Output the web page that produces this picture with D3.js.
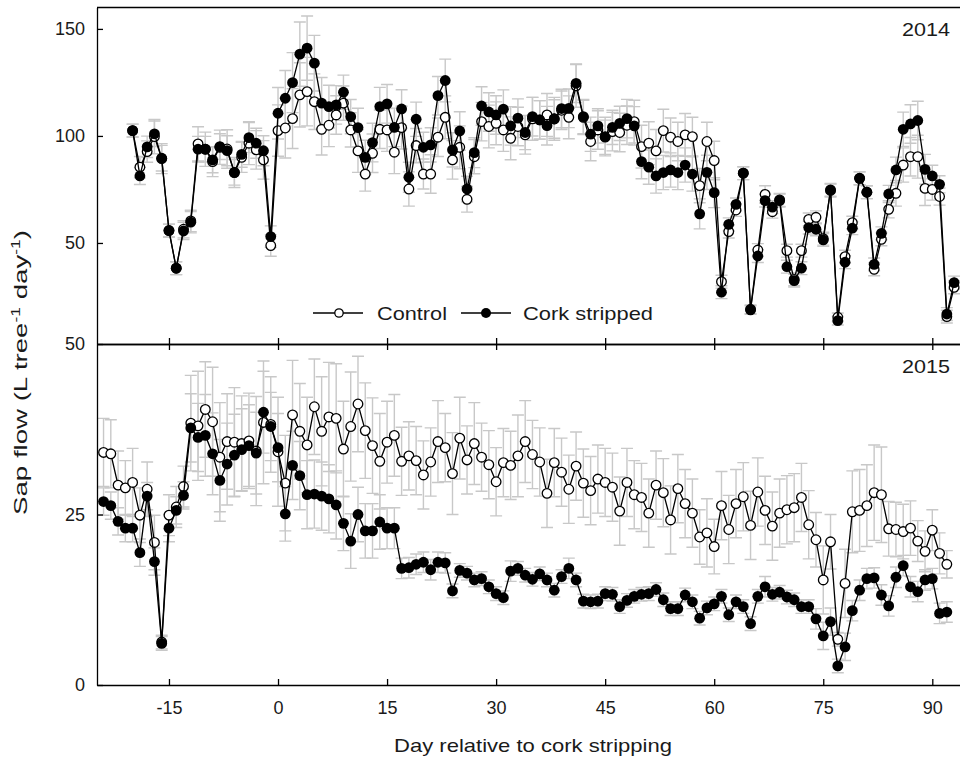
<!DOCTYPE html>
<html>
<head>
<meta charset="utf-8">
<script src="https://cdn.jsdelivr.net/npm/d3@7"></script>
<style>
  body { margin: 0; background: #fff; }
  text { font-family: "Liberation Sans", Arial, sans-serif; fill: #1a1a1a; }
</style>
</head>
<body>
<script>
// chart size
var svgWidth = 960;
var svgHeight = 758;

// ---- data ----
var xTicks = [-15, 0, 15, 30, 45, 60, 75, 90];
var yTicks2014 = [50, 100, 150];
var yTicks2015 = [0, 25, 50];
var seriesNames = ["Control", "Cork stripped"];
var panelLabels = ["2014", "2015"];

// 2014: one value per day, starting at day -20
var firstDay2014 = -20;
var control2014 = [
  102.5, 85.4, 92.7, 99.7, 89.4, 55.8, 38.2, 56.4, 60.3, 96.3,
  93.8, 88, 94.7, 93.9, 82.9, 90, 96.6, 93.5, 88.8, 48.8,
  102.5, 103.7, 108.1, 119.2, 120.7, 116, 103.1, 105, 109.8, 115.3,
  102.8, 93, 82.2, 91.9, 103.1, 102.8, 92.4, 103.9, 75.2, 95.5,
  82.2, 82.2, 99.4, 108.7, 88.8, 94.7, 70.4, 90.3, 106.7, 104.4,
  105.9, 102.8, 98.9, 104.4, 100.5, 108, 107.5, 109.8, 108, 112,
  108.7, 123.4, 108.7, 97.4, 102.8, 99.7, 102, 101.6, 105, 106.7,
  95, 96.6, 93, 102.5, 99.4, 97.4, 100.5, 99.7, 76.8, 97.4,
  88.5, 31.9, 55.3, 65.4, 82.6, 19, 46.7, 72.7, 64.6, 70.1,
  46.4, 33, 46.4, 61, 62, 52, 74.5, 15.3, 43.6, 59.5,
  80.2, 73.7, 37.7, 51.7, 65.7, 73.2, 86.4, 90.3, 90.3, 75.5,
  75, 71.7, 15.6, 29.3
];
var cork2014 = [
  102.5, 81.3, 94.9, 101, 89.6, 55.8, 38.2, 55.6, 59.7, 93.8,
  93.8, 88.8, 95, 93.1, 83, 91.4, 99.2, 96.6, 93.1, 53,
  110.6, 117.6, 124.9, 138.2, 141, 134, 115.3, 113.7, 114.5, 120.4,
  109, 103.9, 90, 96.9, 113.7, 115, 104, 112.6, 80.7, 107.8,
  94.7, 95.8, 118.8, 125.9, 93.5, 102.3, 75.2, 92.2, 114, 111.2,
  109.8, 112.5, 104.7, 108.3, 101.6, 109, 107.5, 104.8, 107.9, 112.8,
  112.9, 124.6, 109, 100.8, 104.7, 99.4, 104, 105.9, 108.1, 104.7,
  88, 85.4, 81.3, 82.9, 84.1, 82.9, 86.4, 82.2, 63.6, 83,
  73.5, 27, 58.7, 68, 82.6, 18.7, 43.9, 69.8, 66.7, 69.8,
  38.9, 32.4, 38.2, 57.2, 56.4, 51.4, 74.8, 13.7, 41, 56.9,
  80.2, 73.7, 40, 54.5, 72.9, 84.1, 103.1, 105.6, 107.2, 84.4,
  81.3, 77.4, 16.8, 31.5
];
var controlSE2014 = [
  3, 5, 5, 8, 7, 3, 3, 4, 5, 8,
  8, 7, 8, 9, 7, 7, 10, 9, 9, 5,
  12, 14, 14, 15, 16, 13, 12, 10, 9, 8,
  8, 10, 8, 9, 9, 10, 10, 10, 8, 8,
  7, 9, 9, 10, 9, 10, 6, 8, 9, 10,
  10, 10, 10, 9, 9, 10, 9, 10, 10, 9,
  10, 10, 8, 9, 9, 9, 9, 9, 9, 10,
  10, 10, 10, 10, 9, 9, 10, 9, 8, 9,
  9, 3, 3, 3, 3, 2, 3, 4, 3, 3,
  3, 3, 3, 3, 3, 3, 3, 2, 3, 3,
  3, 3, 3, 3, 4, 6, 8, 9, 10, 8,
  5, 4, 3, 3
];
var corkSE2014 = [
  3, 4, 5, 6, 6, 3, 3, 4, 5, 6,
  6, 6, 6, 7, 6, 6, 7, 7, 7, 5,
  12, 13, 14, 15, 15, 13, 12, 10, 9, 8,
  8, 9, 8, 9, 9, 9, 9, 9, 7, 8,
  7, 8, 9, 10, 8, 9, 6, 7, 9, 9,
  9, 9, 9, 9, 8, 9, 9, 9, 9, 9,
  9, 9, 8, 8, 8, 8, 8, 8, 9, 9,
  8, 8, 8, 8, 8, 8, 8, 8, 7, 8,
  7, 3, 3, 3, 3, 2, 3, 3, 3, 3,
  3, 3, 3, 3, 3, 3, 3, 2, 3, 3,
  3, 3, 3, 3, 4, 6, 8, 9, 9, 7,
  5, 4, 3, 3
];

// 2015: one value per day, starting at day -24
var firstDay2015 = -24;
var control2015 = [
  34.1, 33.9, 29.3, 28.9, 29.7, 24.9, 28.7, 20.9, 6.3, 24.9,
  26.1, 29.1, 38.4, 38, 40.4, 38.6, 33.4, 35.7, 35.6, 35.4,
  35.8, 34.3, 38.5, 38.2, 34.2, 29.6, 39.6, 37.2, 35.2, 40.8,
  37.2, 39.3, 39.1, 34.6, 37.9, 41.2, 37.3, 35.1, 32.8, 35.6,
  36.6, 32.8, 33.6, 32.9, 30.8, 32.7, 35.7, 34.8, 31, 36.2,
  33, 35.4, 33.4, 32.3, 29.8, 32.6, 32.2, 33.6, 35.7, 33.8,
  32.7, 28.1, 32.6, 31.2, 28.7, 32.1, 29.6, 28.5, 30.2, 29.7,
  29, 25.5, 29.7, 27.9, 27.5, 25.2, 29.3, 28.2, 24.2, 28.8,
  26.6, 25.2, 21.7, 22.3, 20.3, 26.3, 22.8, 26.6, 27.6, 23.4,
  28.3, 25.6, 23.3, 25.2, 25.7, 26, 27.5, 23.5, 21.3, 15.4,
  21, 6.7, 14.9, 25.4, 25.6, 26.3, 28.2, 27.9, 22.9, 22.8,
  22.5, 23, 21.1, 19.6, 22.7, 19.3, 17.7
];
var cork2015 = [
  26.9, 26.3, 24, 23, 23, 19.4, 27.7, 18.1, 6.1, 23,
  25.6, 27.8, 37.7, 36.3, 36.6, 33.9, 30, 32.4, 33.7, 34.5,
  35.1, 34, 40, 37.9, 34.8, 25.1, 32.2, 30.7, 27.9, 28,
  27.7, 27.3, 26.4, 23.7, 21.1, 25, 22.6, 22.6, 23.9, 23,
  23, 17.1, 17.2, 17.7, 18, 16.9, 18, 17.9, 13.8, 16.8,
  16.4, 15.4, 15.6, 14.4, 13.4, 12.8, 16.7, 17.1, 16.1, 15.5,
  16.3, 15.4, 13.9, 15.9, 17.1, 15.4, 12.3, 12.2, 12.3, 13.4,
  13.3, 11.5, 12.4, 13, 13.3, 13.4, 14, 12.5, 11.2, 11.2,
  13.2, 12.2, 9.8, 11.3, 11.9, 13, 10.3, 12.2, 11.5, 9,
  13, 14.4, 13.3, 13.6, 12.9, 12.5, 11.5, 11.5, 9.7, 7.2,
  9.3, 2.8, 5.6, 10.9, 13.9, 15.6, 15.7, 13.2, 11.6, 15.8,
  17.5, 14.4, 13.7, 15.4, 15.6, 10.5, 10.7
];
var controlSE2015 = [
  5, 5, 5, 4, 5, 4, 4, 4, 1, 3,
  3, 3, 7, 8, 7, 8, 8, 7, 8, 7,
  7, 8, 9, 7, 8, 7, 8, 7, 7, 7,
  8, 8, 8, 7, 8, 7, 7, 7, 7, 6,
  6, 5, 5, 5, 5, 5, 6, 5, 6, 6,
  5, 6, 5, 5, 5, 5, 5, 6, 6, 5,
  5, 5, 5, 5, 5, 5, 5, 5, 5, 5,
  5, 5, 5, 5, 5, 5, 5, 5, 5, 5,
  5, 5, 4, 5, 4, 5, 5, 5, 5, 5,
  5, 5, 5, 5, 5, 5, 5, 5, 4, 5,
  4, 1, 5, 6, 6, 6, 7, 7, 4, 4,
  4, 4, 3, 3, 3, 3, 2
];
var corkSE2015 = [
  2, 2, 2, 2, 2, 2, 2, 2, 1, 2,
  2, 2, 5, 5, 6, 6, 6, 6, 6, 6,
  6, 6, 6, 5, 5, 4, 5, 5, 5, 5,
  5, 5, 5, 4, 4, 4, 4, 4, 4, 3,
  3, 1.5, 1.5, 1.5, 1.5, 1.5, 1.5, 1.5, 1, 1,
  1, 1, 1, 1, 1, 1, 1.5, 1, 1, 1,
  1, 1, 1, 1, 1.5, 1, 1, 1, 1, 1,
  1, 1, 1, 1, 1, 1, 1, 1, 1, 1,
  1, 1, 1, 1, 1, 1, 1, 1, 1, 1,
  1, 1.5, 1, 1, 1, 1, 1, 1, 1.5, 2,
  2, 1, 2, 1.5, 1.5, 1.5, 1.5, 1.5, 1.5, 1.5,
  1.5, 1.5, 1.5, 1.5, 1.5, 1.5, 1.5
];

// ---- layout ----
var plotLeft = 97, plotRight = 1005;   // right side runs off the page, like the figure
var topY0 = 7.5, midY = 344, botY = 685;

var svg = d3.select("body").append("svg")
  .attr("width", svgWidth)
  .attr("height", svgHeight);

var x = d3.scaleLinear().domain([-24.9, 100]).range([plotLeft, plotRight]);
var yTop = d3.scaleLinear().domain([2.8, 160]).range([midY, topY0]);
var yBot = d3.scaleLinear().domain([0, 50]).range([botY, midY]);

function rows(first, vals, se) {
  return vals.map(function(v, i) { return {day: first + i, v: v, se: se[i]}; });
}

function drawPanel(y, first, ctrl, cork, ctrlSE, corkSE) {
  var g = svg.append("g");
  var c = rows(first, ctrl, ctrlSE);
  var k = rows(first, cork, corkSE);

  // error bars, grey, drawn first
  g.append("g").selectAll("path")
    .data(c.concat(k))
    .enter().append("path")
    .attr("d", function(d) {
      var cx = x(d.day), lo = y(d.v - d.se), hi = y(d.v + d.se);
      return "M" + cx + "," + lo + "V" + hi +
        "M" + (cx - 6) + "," + lo + "h12M" + (cx - 6) + "," + hi + "h12";
    })
    .attr("fill", "none")
    .attr("stroke", "#c8c8c8")
    .attr("stroke-width", 1.4);

  var line = d3.line().x(function(d) { return x(d.day); }).y(function(d) { return y(d.v); });

  g.append("path").datum(c).attr("d", line)
    .attr("fill", "none").attr("stroke", "#000").attr("stroke-width", 1.3);
  g.append("g").selectAll("circle").data(c).enter().append("circle")
    .attr("cx", function(d) { return x(d.day); })
    .attr("cy", function(d) { return y(d.v); })
    .attr("r", 4.8)
    .attr("fill", "#fff").attr("stroke", "#000").attr("stroke-width", 1.3);

  g.append("path").datum(k).attr("d", line)
    .attr("fill", "none").attr("stroke", "#000").attr("stroke-width", 1.3);
  g.append("g").selectAll("circle").data(k).enter().append("circle")
    .attr("cx", function(d) { return x(d.day); })
    .attr("cy", function(d) { return y(d.v); })
    .attr("r", 5.4)
    .attr("fill", "#000");
}

drawPanel(yTop, firstDay2014, control2014, cork2014, controlSE2014, corkSE2014);
drawPanel(yBot, firstDay2015, control2015, cork2015, controlSE2015, corkSE2015);

// ---- axes ----
function styleAxis(g) {
  g.selectAll("path, line").attr("stroke", "#000").attr("stroke-width", 1.3);
  g.selectAll("text").attr("font-size", "18px").attr("fill", "#1a1a1a")
    .attr("font-family", "Liberation Sans, Arial, sans-serif");
}
var plain = function(d) { return String(d); };   // keep ASCII hyphen for negatives

svg.append("g").attr("transform", "translate(" + plotLeft + ",0)")
  .call(d3.axisLeft(yTop).tickValues(yTicks2014).tickFormat(plain).tickSize(-6).tickSizeOuter(0).tickPadding(12))
  .call(styleAxis);
svg.append("g").attr("transform", "translate(" + plotLeft + ",0)")
  .call(d3.axisLeft(yBot).tickValues(yTicks2015).tickFormat(plain).tickSize(-6).tickSizeOuter(0).tickPadding(12))
  .call(styleAxis);

// top border of the 2014 panel
svg.append("line")
  .attr("x1", plotLeft).attr("x2", plotRight)
  .attr("y1", topY0).attr("y2", topY0)
  .attr("stroke", "#000").attr("stroke-width", 1.3);

// shared border, ticks both ways
svg.append("g").attr("transform", "translate(0," + midY + ")")
  .call(d3.axisBottom(x).tickValues(xTicks).tickSize(-6).tickSizeOuter(0).tickFormat(""))
  .call(styleAxis);
svg.append("g").attr("transform", "translate(0," + midY + ")")
  .call(d3.axisTop(x).tickValues(xTicks).tickSize(-6).tickSizeOuter(0).tickFormat(""))
  .call(styleAxis);

svg.append("g").attr("transform", "translate(0," + botY + ")")
  .call(d3.axisBottom(x).tickValues(xTicks).tickFormat(plain).tickSize(-6).tickSizeOuter(0).tickPadding(16))
  .call(styleAxis);

// stretch a text node horizontally so it spans a given width
function fit(sel, width) {
  var w = sel.node().getComputedTextLength();
  return width / w;
}

// axis titles
var xt = svg.append("text")
  .attr("text-anchor", "middle")
  .attr("font-size", "19px")
  .text("Day relative to cork stripping");
xt.attr("transform", "translate(533,752) scale(" + fit(xt, 278) + ",1)");

var yt = svg.append("text")
  .attr("text-anchor", "middle")
  .attr("font-size", "19px");
yt.append("tspan").text("Sap flow (L tree");
yt.append("tspan").attr("font-size", "12px").attr("dy", "-7").text("-1");
yt.append("tspan").attr("dy", "7").text(" day");
yt.append("tspan").attr("font-size", "12px").attr("dy", "-7").text("-1");
yt.append("tspan").attr("dy", "7").text(")");
yt.attr("transform", "translate(27,372.5) rotate(-90) scale(" + fit(yt, 285) + ",1)");

// panel year labels
[[panelLabels[0], 36], [panelLabels[1], 373]].forEach(function(p) {
  var t = svg.append("text").attr("font-size", "18.5px").text(p[0]);
  t.attr("transform", "translate(902," + p[1] + ") scale(" + fit(t, 48) + ",1)");
});

// legend
var legendY = 313;
var legend = [
  {name: seriesNames[0], x1: 313, x2: 363, cx: 339, tx: 377, tw: 70, open: true},
  {name: seriesNames[1], x1: 461, x2: 511, cx: 486, tx: 523, tw: 130, open: false}
];
legend.forEach(function(l) {
  svg.append("line").attr("x1", l.x1).attr("x2", l.x2)
    .attr("y1", legendY).attr("y2", legendY)
    .attr("stroke", "#000").attr("stroke-width", 1.3);
  svg.append("circle").attr("cx", l.cx).attr("cy", legendY)
    .attr("r", l.open ? 4.2 : 5)
    .attr("fill", l.open ? "#fff" : "#000")
    .attr("stroke", "#000").attr("stroke-width", l.open ? 1.3 : 0);
  var t = svg.append("text").attr("font-size", "18.5px").text(l.name);
  t.attr("transform", "translate(" + l.tx + "," + (legendY + 6.5) + ") scale(" + fit(t, l.tw) + ",1)");
});
</script>
</body>
</html>
